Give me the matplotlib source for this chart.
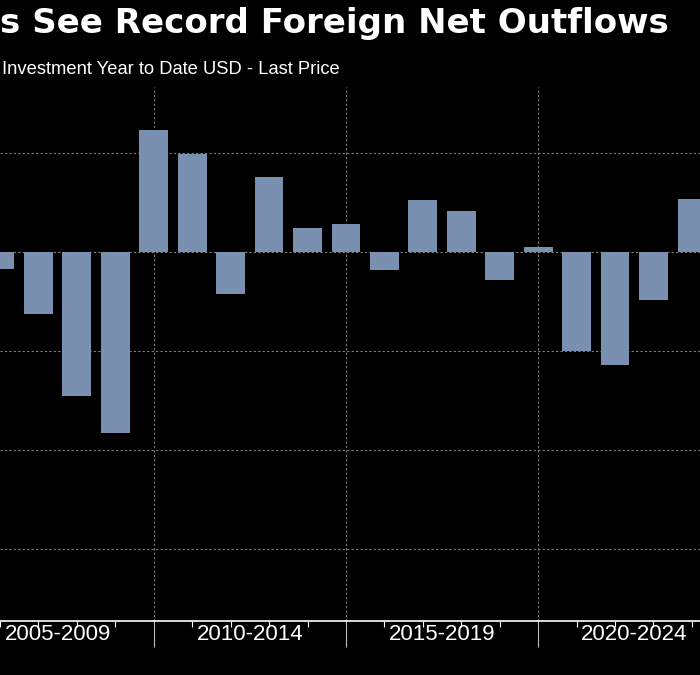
import numpy as np
import matplotlib
matplotlib.use("Agg")
import matplotlib.pyplot as plt

plt.rcParams['font.family'] = ['Liberation Sans', 'DejaVu Sans']

# Foreign net investment, year to date (one bar per calendar year)
years = [2005, 2006, 2007, 2008, 2009, 2010, 2011, 2012, 2013, 2014,
         2015, 2016, 2017, 2018, 2019, 2020, 2021, 2022, 2023]
values = [-1.7, -6.2, -14.5, -18.2, 12.35, 9.95, -4.2, 7.6, 2.45, 2.85,
          -1.8, 5.3, 4.15, -2.8, 0.55, -10.0, -11.35, -4.8, 5.4]

group_labels = ['2005-2009', '2010-2014', '2015-2019', '2020-2024']
group_centers = [2006.5, 2011.5, 2016.5, 2021.5]
group_edges = [2009, 2014, 2019]
y_grid = [-30, -20, -10, 0, 10]

bg = '#000000'
bar_color = '#7990b0'
grid_color = '#808080'

fig = plt.figure(figsize=(7, 6.75), dpi=100, facecolor=bg)
ax = fig.add_axes([0, 54 / 675, 1, 534 / 675])
ax.set_facecolor(bg)

ax.bar(years, values, width=0.75, color=bar_color, zorder=3)

for y in y_grid:
    ax.axhline(y, color=grid_color, lw=0.8, ls=(0, (2, 2)), zorder=1)
for x in group_edges:
    ax.axvline(x, color=grid_color, lw=0.8, ls=(0, (2, 2)), zorder=1)

ax.set_xlim(2005.075, 2023.21)
ax.set_ylim(-37.24, 16.7)

for s in ['top', 'left', 'right']:
    ax.spines[s].set_visible(False)
ax.spines['bottom'].set_color('white')
ax.spines['bottom'].set_linewidth(1.2)

ax.set_yticks([])
ax.set_xticks(group_edges)
ax.set_xticklabels([])
ax.set_xticks(years, minor=True)
ax.tick_params(axis='x', which='major', length=19, width=0.8, color='#bbbbbb', direction='out')
ax.tick_params(axis='x', which='minor', length=4, width=0.8, color='white', direction='out')

for lab, c in zip(group_labels, group_centers):
    ax.annotate(lab, xy=(c, 0), xycoords=('data', 'axes fraction'),
                xytext=(0, -10), textcoords='offset points',
                ha='center', va='center', color='white', fontsize=16)

fig.text(0, 1 - 24 / 675, 's See Record Foreign Net Outflows', color='white',
         fontsize=24.5, fontweight='bold', ha='left', va='center', family='DejaVu Sans')
fig.text(2 / 700, 1 - 70 / 675, 'Investment Year to Date USD - Last Price', color='white',
         fontsize=13.2, ha='left', va='center')

fig.savefig('out.png', dpi=100, facecolor=bg)
